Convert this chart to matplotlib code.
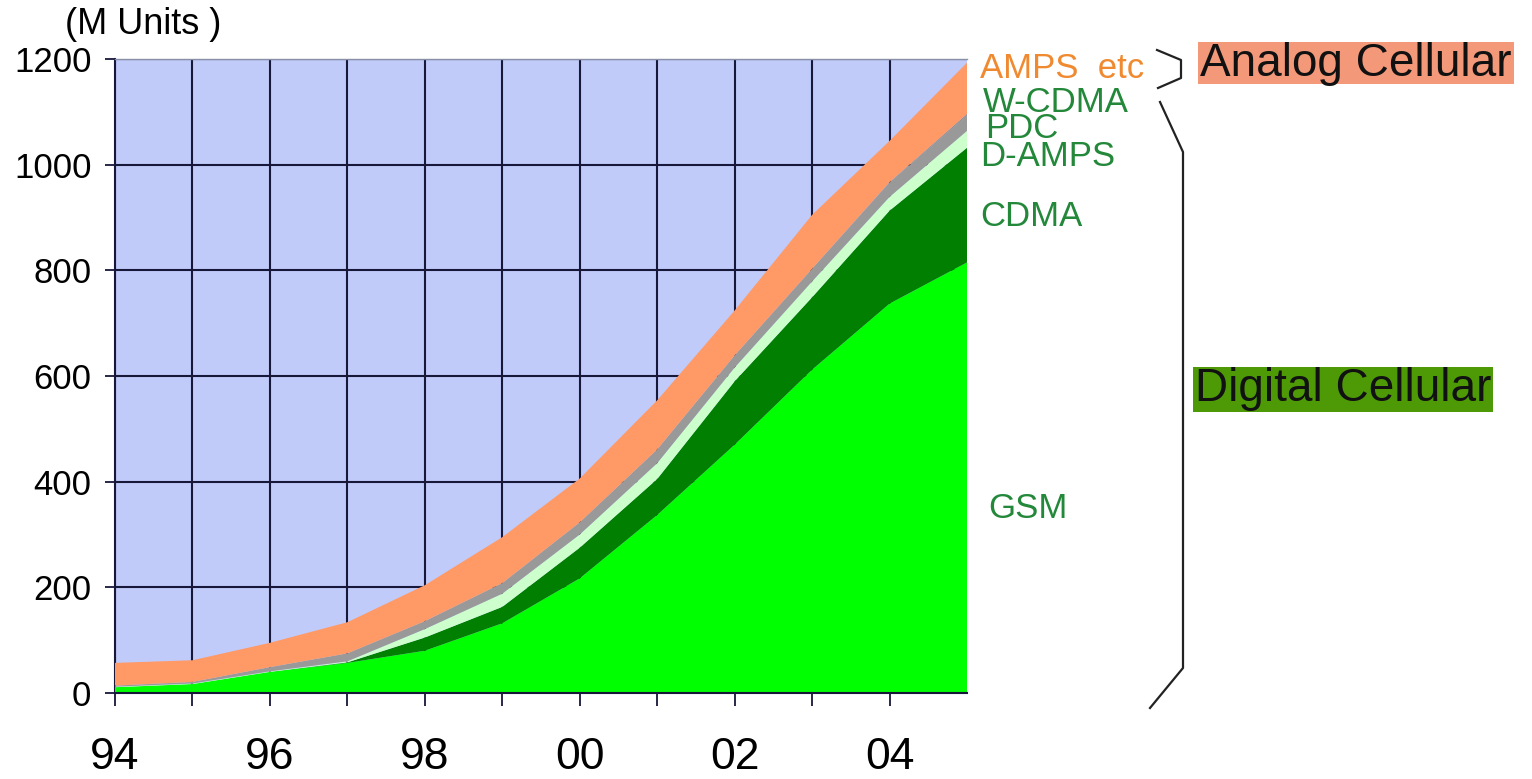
import matplotlib
matplotlib.use("Agg")
import matplotlib.pyplot as plt
from matplotlib.lines import Line2D
from matplotlib.patches import Rectangle

# cellular subscribers by air interface, millions (stacked)
years = [1994, 1995, 1996, 1997, 1998, 1999, 2000, 2001, 2002, 2003, 2004, 2005]
gsm = [11, 17, 40, 57, 80, 132, 217, 337, 470, 612, 737, 815]
cdma = [0, 0, 0, 1, 25, 31, 58, 68, 120, 137, 176, 217]
d_amps = [1, 1, 1, 2, 16, 25, 25, 30, 26, 30, 26, 32]
pdc = [2, 3, 8, 15, 15, 20, 23, 26, 23, 24, 27, 29]
w_cdma = [0, 0, 0, 0, 0, 0, 0, 0, 0, 0, 1, 3]
amps = [43, 41, 46, 59, 68, 87, 83, 93, 85, 102, 78, 97]

tick_years = list(range(1994, 2005))
tick_labels = ["94", "", "96", "", "98", "", "00", "", "02", "", "04"]
y_ticks = [0, 200, 400, 600, 800, 1000, 1200]

W, H = 1532, 779
DARK = "#17173a"
GREEN_TXT = "#23883a"

plt.rcParams["font.family"] = ["Liberation Sans", "DejaVu Sans"]

fig = plt.figure(figsize=(W / 100, H / 100), dpi=100)
ax = fig.add_axes([115 / W, 1 - 693 / H, (967 - 115) / W, (693 - 59) / H])
ax.set_facecolor("#c1cbfa")

ax.stackplot(years, gsm, cdma, d_amps, pdc, w_cdma, amps,
             colors=["#00ff00", "#007f00", "#ccffcc", "#999999", "#8c8c8c", "#ff9966"],
             linewidth=0, zorder=2)

ax.set_xlim(1994, 2005)
ax.set_ylim(0, 1200)
ax.set_axisbelow(True)
ax.grid(True, color=DARK, linewidth=1.5)

ax.set_xticks(tick_years)
ax.set_xticklabels(tick_labels)
ax.set_yticks(y_ticks)
ax.set_yticklabels([str(v) for v in y_ticks])
ax.tick_params(axis="x", direction="out", length=9, width=1.3, color=DARK,
               labelsize=32, pad=23)
ax.tick_params(axis="y", direction="out", length=7, width=1.3, color=DARK,
               labelsize=25, pad=10)

ax.spines["right"].set_visible(False)
ax.spines["top"].set_color("#8890a8")
ax.spines["top"].set_linewidth(1)
ax.spines["left"].set_color(DARK)
ax.spines["left"].set_linewidth(1.5)
ax.spines["left"].set_zorder(1.5)
ax.spines["bottom"].set_color(DARK)
ax.spines["bottom"].set_linewidth(1.5)


def fx(x):
    return x / W


def fy(y):
    return 1 - y / H


fig.text(fx(65), fy(24), "(M Units )", fontsize=26, va="center", ha="left")

# series labels to the right of the plot
labels = [
    ("AMPS  etc", 980, 68, "#f08a30"),
    ("W-CDMA", 983, 102, GREEN_TXT),
    ("PDC", 985, 129, GREEN_TXT),
    ("D-AMPS", 980, 156, GREEN_TXT),
    ("CDMA", 980, 217, GREEN_TXT),
    ("GSM", 988, 508, GREEN_TXT),
]
for txt, x, y, c in labels:
    fig.text(fx(x), fy(y), txt, fontsize=25, color=c, va="center", ha="left")

# brackets grouping analog / digital systems
analog_br = [(1157, 50), (1181, 60), (1181, 78), (1158, 88)]
digital_br = [(1160, 102), (1183, 152), (1183, 668), (1150, 708)]
for pts in (analog_br, digital_br):
    fig.add_artist(Line2D([fx(p[0]) for p in pts], [fy(p[1]) for p in pts],
                          color="#222222", linewidth=1.6,
                          transform=fig.transFigure))

fig.add_artist(Rectangle((fx(1198), fy(84)), (1514 - 1198) / W, (84 - 42) / H,
                         facecolor="#f4987a", edgecolor="none",
                         transform=fig.transFigure))
fig.text(fx(1200), fy(64), "Analog Cellular", fontsize=33, color="#111111",
         va="center", ha="left")

fig.add_artist(Rectangle((fx(1193), fy(412)), (1493 - 1193) / W, (412 - 367) / H,
                         facecolor="#4e9a06", edgecolor="none",
                         transform=fig.transFigure))
fig.text(fx(1195), fy(389), "Digital Cellular", fontsize=33, color="#111111",
         va="center", ha="left")

fig.savefig("out.png", dpi=100)
